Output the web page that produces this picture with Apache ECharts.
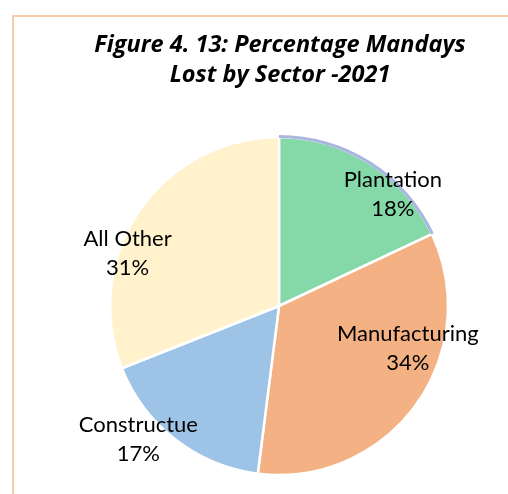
<!DOCTYPE html>
<html>
<head>
<meta charset="utf-8">
<script src="https://cdn.jsdelivr.net/npm/echarts@6/dist/echarts.min.js"></script>
<style>
  html, body { margin: 0; padding: 0; background: #fff; }
  .wrap { position: relative; width: 508px; height: 494px; overflow: hidden; }
  .frame {
    position: absolute; left: 12px; top: 15px; width: 520px; height: 500px;
    border-left: 2px solid #F8CBAD; border-top: 2px solid #F8CBAD;
  }
  #chart { position: absolute; left: 0; top: 0; width: 508px; height: 494px; }
</style>
</head>
<body>
<div class="wrap">
  <div class="frame"></div>
  <div id="chart"></div>
</div>
<script>
  const sectors = ['Plantation', 'Manufacturing', 'Constructue', 'All Other'];
  const shares = [18, 34, 17, 31];

  const colors = ['#85D8A8', '#F4B183', '#9DC3E6', '#FFF2CC'];
  // label nudges so they sit where the original had them
  const offsets = [[67, -38], [58, -9], [-87, 64], [-79, -3]];

  const chart = echarts.init(document.getElementById('chart'));
  const font = 'Lato, "Open Sans", sans-serif';

  chart.setOption({
    animation: false,
    title: {
      text: 'Figure 4. 13: Percentage Mandays\nLost by Sector -2021',
      left: 275,
      textAlign: 'center',
      top: 25,
      textStyle: {
        fontFamily: '"Open Sans", sans-serif', fontSize: 23.5, fontWeight: 'bold', fontStyle: 'italic',
        color: '#000', lineHeight: 30
      }
    },
    series: [
      {
        type: 'pie',
        center: [279, 306],
        radius: [0, 169],
        startAngle: 90,
        clockwise: true,
        itemStyle: {borderColor: '#fff', borderWidth: 2.5},
        label: {
          show: true,
          position: 'inside',
          fontFamily: font,
          fontSize: 22,
          lineHeight: 29,
          color: '#000',
          formatter: p => p.name + '\n' + p.value + '%'
        },
        labelLine: {show: false},
        data: sectors.map((name, i) => ({
          name, value: shares[i],
          itemStyle: {color: colors[i]},
          label: {offset: offsets[i]}
        }))
      },
      {
        // thin lavender rim along the Plantation slice
        type: 'pie',
        center: [279, 306],
        radius: [168, 171],
        startAngle: 90,
        silent: true,
        label: {show: false},
        labelLine: {show: false},
        data: sectors.map((name, i) => ({
          name, value: shares[i],
          itemStyle: {color: i === 0 ? '#A9B6E0' : 'rgba(0,0,0,0)'}
        }))
      }
    ]
  });
</script>
</body>
</html>
